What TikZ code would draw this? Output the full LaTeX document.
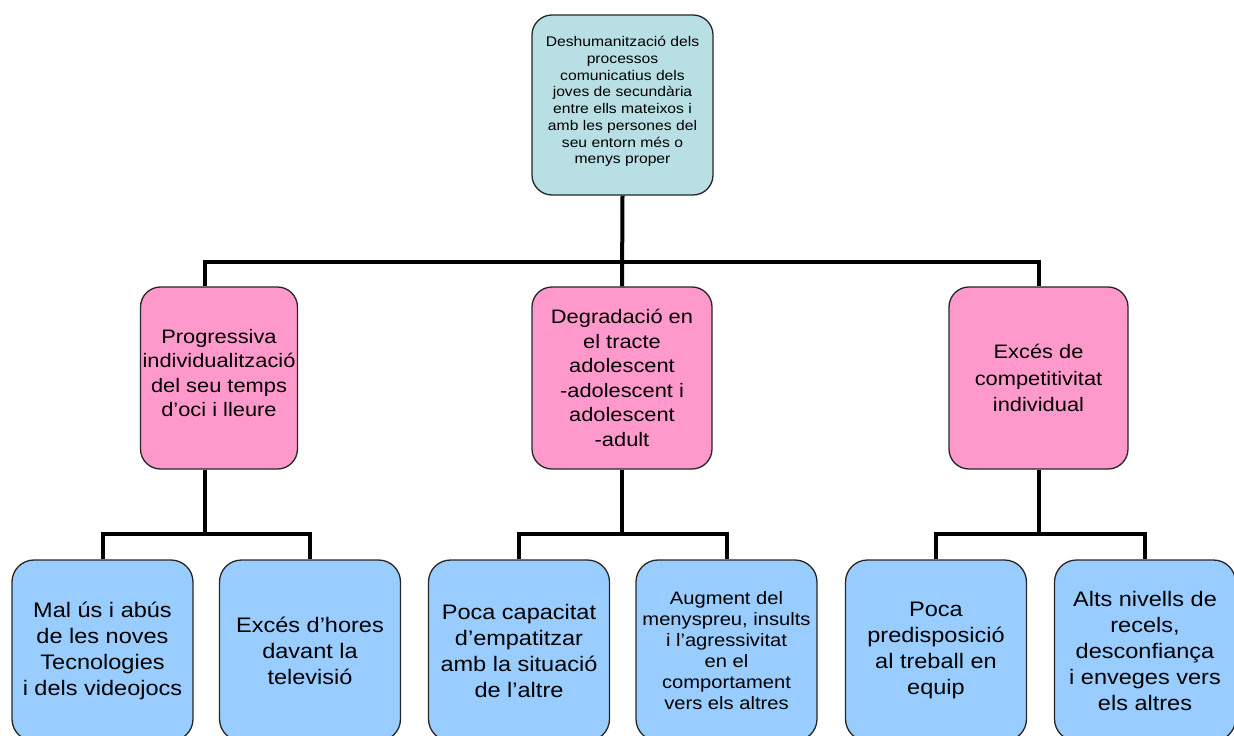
\documentclass[tikz,border=0pt]{standalone}
\usepackage{fontspec}
\setmainfont{Liberation Sans}[FakeStretch=1.12]
\definecolor{topfill}{RGB}{184,224,228}
\definecolor{pinkfill}{RGB}{255,153,204}
\definecolor{bluefill}{RGB}{153,204,255}
\begin{document}
\begin{tikzpicture}[x=1pt,y=-1pt,
  box/.style={draw=black!85, line width=1.3pt, rounded corners=20pt, align=center, inner sep=2pt},
  rootbox/.style={box, fill=topfill, minimum width=181pt, minimum height=180pt,
    font=\fontsize{14}{16.7}\selectfont},
  causebox/.style={box, fill=pinkfill, minimum height=182pt,
    font=\fontsize{19.5}{24.5}\selectfont},
  effectbox/.style={box, fill=bluefill, minimum width=181pt, minimum height=181pt,
    rounded corners=22pt, font=\fontsize{21}{26}\selectfont},
  link/.style={line width=4pt}
]
\useasboundingbox (0,0) rectangle (1234,736);
\clip (0,0) rectangle (1234,736);

% root problem
\node[rootbox] (top) at (622.5,105) {Deshumanització dels\\processos\\comunicatius dels\\joves de secundària\\entre ells mateixos i\\amb les persones del\\seu entorn més o\\menys proper\\[-7pt]};

% causes
\node[causebox, minimum width=156pt] (p1) at (219,378) {Progressiva\\individualització\\del seu temps\\d’oci i lleure\\[-14pt]};
\node[causebox, minimum width=180pt] (p2) at (622,378) {Degradació en\\el tracte\\adolescent\\-adolescent i\\adolescent\\-adult};
\node[causebox, minimum width=179pt, font=\fontsize{19.5}{26.5}\selectfont] (p3) at (1038.5,378) {Excés de\\competitivitat\\individual};

% consequences
\node[effectbox] (b1) at (102.5,650.5) {Mal ús i abús\\de les noves\\Tecnologies\\i dels videojocs};
\node[effectbox] (b2) at (310,650.5) {Excés d’hores\\davant la\\televisió};
\node[effectbox] (b3) at (519,650.5) {Poca capacitat\\d’empatitzar\\amb la situació\\de l’altre};
\node[effectbox, font=\fontsize{18}{21}\selectfont] (b4) at (726.5,650.5) {Augment del\\menyspreu, insults\\i l’agressivitat\\en el\\comportament\\vers els altres};
\node[effectbox] (b5) at (936,650.5) {Poca\\predisposició\\al treball en\\equip};
\node[effectbox] (b6) at (1145,650.5) {Alts nivells de\\recels,\\desconfiança\\i enveges vers\\els altres};

% junction points of the connector bars
\coordinate (jTop) at (205,262);
\coordinate (jLow) at (205,534);

% upper tree
\draw[link] (top.south) -- (p2.north);
\draw[link] (p1.north -| jTop) -- (jTop) -- (jTop -| p3.north) -- (p3.north);

% lower trees
\draw[link] (p1.south -| jLow) -- (jLow);
\draw[link] (b1.north) -- (b1.north |- jLow) -- (b2.north |- jLow) -- (b2.north);
\draw[link] (p2.south) -- (p2.south |- jLow);
\draw[link] (b3.north) -- (b3.north |- jLow) -- (b4.north |- jLow) -- (b4.north);
\draw[link] (p3.south) -- (p3.south |- jLow);
\draw[link] (b5.north) -- (b5.north |- jLow) -- (b6.north |- jLow) -- (b6.north);
\end{tikzpicture}
\end{document}
